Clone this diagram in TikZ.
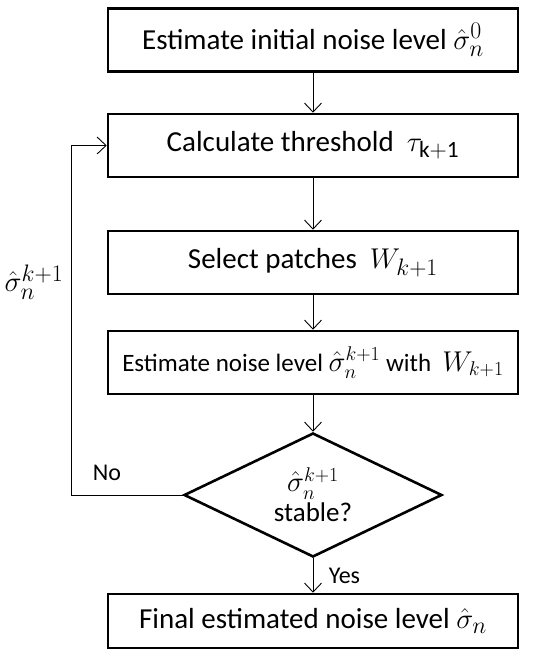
\documentclass[tikz,border=0pt]{standalone}
\usepackage{amsmath,amssymb}
\usepackage{fontspec}
\setmainfont{Carlito}
\usetikzlibrary{arrows.meta,shapes.geometric}
\newcommand{\mth}[1]{\scalebox{1.15}{$#1$}}

\begin{document}
\begin{tikzpicture}[x=1pt,y=-1pt,
  stepbox/.style={draw,line width=2.6pt,minimum width=410pt,minimum height=63pt,inner sep=0pt,font=\fontsize{29}{33}\selectfont},
  test/.style={draw,diamond,line width=2.6pt,minimum width=258pt,minimum height=124pt,aspect=2.08,inner sep=0pt,align=center,font=\fontsize{27}{30}\selectfont},
  flow/.style={line width=0.9pt,-{Straight Barb[length=9pt,width=17pt]}},
  lbl/.style={font=\fontsize{24}{28}\selectfont}]

\useasboundingbox (0,0) rectangle (532,668);

% Process steps
\node[stepbox] (init) at (313,40) {Estimate initial noise level \mth{\hat{\sigma}_n^0}};
\node[stepbox] (thresh) at (313,145.5) {Calculate threshold\ \ \mth{\tau_{\mathrm{k+1}}}};
\node[stepbox] (patch) at (313,262.5) {Select patches\ \ \mth{W_{k+1}}};
\node[stepbox,font=\fontsize{25}{29}\selectfont] (est) at (313,362.5) {Estimate noise level \mth{\hat{\sigma}_n^{k+1}} with\ \ \mth{W_{k+1}}};

% Decision
\node[test] (stable) at (313,495) {\mth{\hat{\sigma}_n^{k+1}}\\stable?};

% Result
\node[stepbox,minimum height=54pt] (final) at (313,621) {Final estimated noise level \mth{\hat{\sigma}_n}};

% Main flow
\draw[flow] (init) -- (thresh);
\draw[flow] (thresh) -- (patch);
\draw[flow] (patch) -- (est);
\draw[flow] (est) -- (stable);
\draw[flow] (stable) -- node[lbl,right,xshift=12pt]{Yes} (final);

% Feedback loop
\coordinate (loop) at (71,495);
\draw[flow] (stable.west) -- (loop) |- (thresh.west);
\node[lbl] (no) at (107,473) {No};
\node[lbl,font=\fontsize{29}{33}\selectfont] (fb) at (34,282) {\mth{\hat{\sigma}_n^{k+1}}};

\end{tikzpicture}
\end{document}
